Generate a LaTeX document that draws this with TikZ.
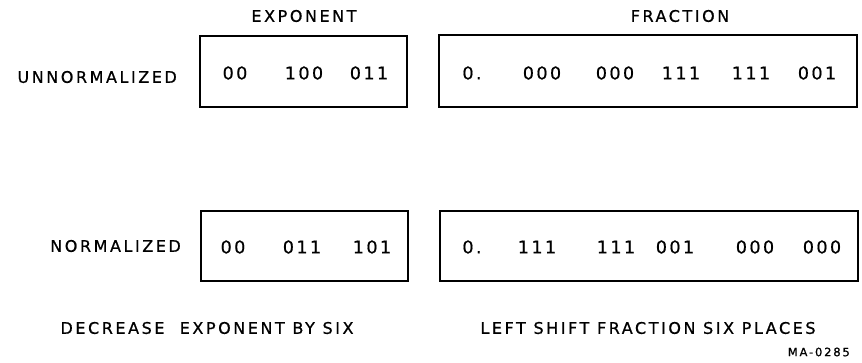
\documentclass[tikz,border=0pt]{standalone}
\usepackage{fontspec}
\newfontfamily\lab[LetterSpace=16,FakeBold=0.8]{DejaVu Sans}
\newfontfamily\dig[LetterSpace=14,FakeBold=0.8]{DejaVu Sans}
\begin{document}
\begin{tikzpicture}[x=1pt,y=-1pt,
  box/.style={draw,line width=1.7pt},
  txt/.style={font=\lab\fontsize{16}{19}\selectfont,inner sep=0pt,anchor=center},
  num/.style={font=\dig\fontsize{17.5}{20}\selectfont,inner sep=0pt,anchor=center},
  small/.style={font=\lab\fontsize{11.5}{14}\selectfont,inner sep=0pt}]
\useasboundingbox (0,0) rectangle (862,363);
% boxes
\draw[box] (200,36) rectangle (407,107);
\draw[box] (439,35) rectangle (857,107);
\draw[box] (201,211) rectangle (408,281);
\draw[box] (440,211) rectangle (858,281);
% headings
\node[txt] (hexp) at (304,16) {EXPONENT};
\node[txt] (hfrac) at (680,16) {FRACTION};
\node[txt,anchor=east] (lun) at (177,77) {UNNORMALIZED};
\node[txt,anchor=east] (lno) at (181,246) {NORMALIZED};
% top exponent
\node[num] (e1) at (235,73) {00};
\node[num] (e2) at (304,73) {100};
\node[num] (e3) at (369,73) {011};
% top fraction
\node[num] (f0) at (472,73) {0.};
\node[num] (f1) at (542,73) {000};
\node[num] (f2) at (615,73) {000};
\node[num] (f3) at (681,73) {111};
\node[num] (f4) at (751,73) {111};
\node[num] (f5) at (817,73) {001};
% bottom exponent
\node[num] (n1) at (233,247) {00};
\node[num] (n2) at (302,247) {011};
\node[num] (n3) at (372,247) {101};
% bottom fraction
\node[num] (g0) at (472,247) {0.};
\node[num] (g1) at (537,247) {111};
\node[num] (g2) at (616,247) {111};
\node[num] (g3) at (675,247) {001};
\node[num] (g4) at (755,247) {000};
\node[num] (g5) at (822,247) {000};
% captions
\node[txt] (c1) at (207,328) {DECREASE\ \ EXPONENT\ BY\ SIX};
\node[txt] (c2) at (648,328) {LEFT SHIFT\ FRACTION\ SIX\ PLACES};
\node[small,anchor=east] (ma) at (850,352) {MA-0285};
\end{tikzpicture}
\end{document}
